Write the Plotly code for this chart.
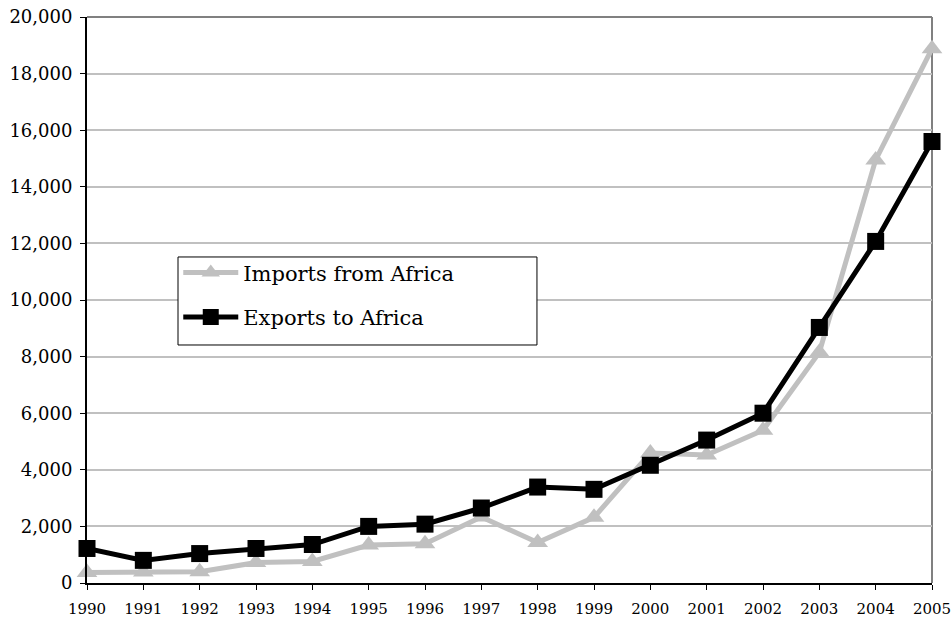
import plotly.graph_objects as go

years = list(range(1990, 2006))
imports_from_africa = [370, 390, 400, 720, 760, 1340, 1390, 2330, 1430, 2320, 4590, 4520, 5400, 8150, 14950, 18880]
exports_to_africa = [1220, 800, 1040, 1220, 1360, 2000, 2080, 2650, 3390, 3310, 4160, 5050, 6000, 9030, 12070, 15600]
y_ticks = list(range(0, 20001, 2000))
y_tick_labels = [f"{v:,}" for v in y_ticks]

FONT = "DejaVu Serif"

fig = go.Figure()
fig.add_trace(go.Scatter(
    x=years, y=imports_from_africa, name="Imports from Africa",
    mode="lines+markers", legendgroup="a",
    line=dict(color="#C0C0C0", width=5),
    marker=dict(symbol="triangle-up", size=18, color="#C0C0C0"),
    cliponaxis=False,
))
fig.add_trace(go.Scatter(
    x=years, y=exports_to_africa, name="Exports to Africa",
    mode="lines+markers", legendgroup="b",
    line=dict(color="#000000", width=5),
    marker=dict(symbol="square", size=17, color="#000000"),
    cliponaxis=False,
))

fig.update_layout(
    width=952, height=619,
    margin=dict(l=87, r=20, t=17, b=36, autoexpand=False),
    paper_bgcolor="white", plot_bgcolor="white",
    font=dict(family=FONT, color="black"),
    showlegend=True,
    legend=dict(
        x=0.108, y=0.584, xanchor="left", yanchor="top",
        bgcolor="rgba(0,0,0,0)", borderwidth=0,
        font=dict(family=FONT, size=21, color="black"),
        itemwidth=55, tracegroupgap=14,
    ),
    xaxis=dict(
        range=[1990, 2005], tickvals=years, ticktext=[str(y) for y in years],
        showgrid=False, zeroline=False, automargin=False,
        showline=True, linecolor="black", linewidth=2,
        ticks="outside", ticklen=5, tickwidth=1, tickcolor="black",
        ticklabelstandoff=6,
        tickfont=dict(family=FONT, size=15, color="black"),
    ),
    yaxis=dict(
        range=[0, 20000], tickvals=y_ticks, ticktext=y_tick_labels,
        showgrid=True, gridcolor="#C0C0C0", gridwidth=2,
        zeroline=False, automargin=False,
        showline=True, linecolor="black", linewidth=2,
        ticks="outside", ticklen=5, tickwidth=1, tickcolor="black",
        ticklabelstandoff=4,
        tickfont=dict(family=FONT, size=18, color="black"),
    ),
    shapes=[
        dict(type="line", xref="paper", yref="paper", x0=0, x1=1, y0=1, y1=1,
             line=dict(color="#808080", width=2), layer="below"),
        dict(type="line", xref="paper", yref="paper", x0=1, x1=1, y0=0, y1=1,
             line=dict(color="#808080", width=2), layer="below"),
        # legend frame
        dict(type="rect", xref="paper", yref="paper",
             x0=0.1077, x1=0.5325, y0=0.4205, y1=0.576,
             fillcolor="white", line=dict(color="#000000", width=1), layer="above"),
    ],
)

fig.write_html("out.html", config={"displayModeBar": False},
               post_script="document.body.style.margin='0';")
